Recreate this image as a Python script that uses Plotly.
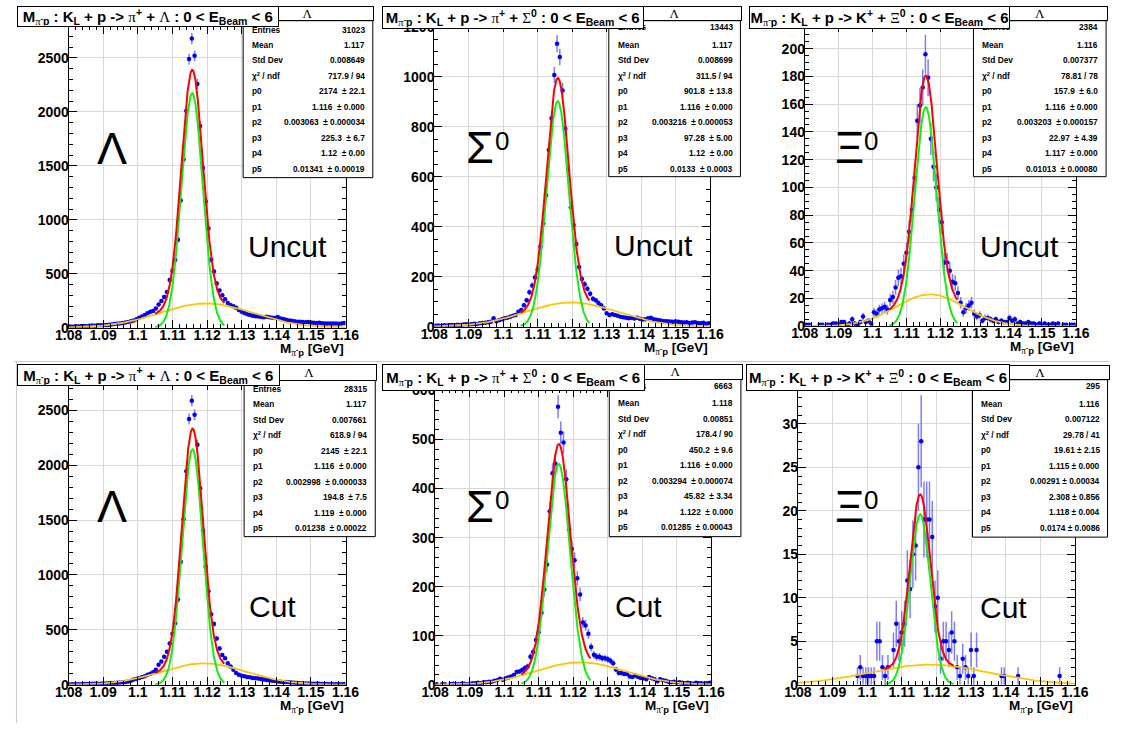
import numpy as np
import plotly.graph_objects as go

W, H = 1123, 731

BIN_LO = 1.08
BIN_W = 0.0008
X_RANGE = [1.08, 1.16]

# ---------------- histogram contents (100 bins, 1.08 - 1.16 GeV) ----------------
LAMBDA_UNCUT = [12, 10, 14, 12, 15, 16, 14, 18, 20, 18,
                22, 24, 22, 26, 28, 30, 34, 36, 40, 44,
                48, 54, 60, 68, 78, 92, 105, 118, 133, 148,
                154, 179, 215, 248, 285, 330, 442, 527, 627, 815,
                1180, 1560, 2010, 2490, 2680, 2520, 2260, 1870, 1480, 1170,
                920, 630, 520, 410, 345, 300, 265, 228, 210, 200,
                185, 165, 148, 136, 125, 118, 112, 106, 104, 100,
                98, 102, 96, 92, 90, 100, 85, 80, 74, 68,
                64, 60, 56, 56, 52, 50, 52, 48, 46, 44,
                45, 42, 40, 40, 38, 40, 38, 36, 40, 44]

SIGMA_UNCUT = [4, 5, 3, 6, 5, 6, 7, 6, 8, 7,
               9, 10, 9, 10, 12, 11, 14, 15, 16, 18,
               20, 34, 22, 26, 30, 34, 36, 40, 44, 47,
               60, 67, 86, 106, 138, 165, 197, 230, 321, 413,
               526, 707, 834, 1007, 1132, 1079, 945, 792, 628, 478,
               407, 331, 239, 191, 170, 152, 132, 112, 106, 95,
               86, 73, 54, 47, 50, 47, 44, 40, 38, 36,
               34, 36, 33, 36, 32, 29, 30, 34, 36, 30,
               28, 26, 24, 22, 22, 21, 20, 21, 20, 18,
               17, 18, 15, 17, 18, 15, 14, 16, 12, 14]

XI_UNCUT = [1, 1, 0, 0, 0, 1, 1, 0, 1, 1,
            2, 2, 1, 3, 3, 1, 2, 5, 2, 1,
            3, 7, 3, 4, 2, 10, 9, 12, 13, 14,
            12, 19, 21, 28, 35, 36, 45, 53, 68, 84,
            107, 148, 159, 172, 196, 179, 135, 115, 100, 84,
            75, 46, 46, 40, 32, 31, 24, 17, 10, 13,
            15, 17, 9, 7, 8, 4, 6, 6, 5, 4,
            5, 3, 4, 3, 3, 6, 4, 5, 2, 3,
            2, 2, 3, 2, 2, 1, 2, 1, 2, 1,
            1, 2, 1, 2, 0, 1, 1, 0, 1, 1]

LAMBDA_CUT = [3, 4, 4, 5, 5, 6, 6, 7, 8, 8,
              9, 10, 11, 12, 13, 15, 16, 18, 20, 22,
              26, 30, 36, 47, 54, 62, 70, 77, 92, 100,
              113, 137, 181, 211, 256, 301, 375, 464, 560, 777,
              1119, 1506, 1944, 2420, 2587, 2458, 2185, 1789, 1402, 1074,
              851, 643, 554, 420, 330, 271, 241, 196, 167, 137,
              107, 92, 83, 77, 71, 68, 62, 60, 56, 52,
              47, 44, 40, 36, 33, 30, 27, 25, 24, 22,
              20, 18, 16, 14, 12, 12, 11, 10, 9, 9,
              8, 7, 6, 6, 5, 5, 4, 5, 4, 6]

SIGMA_CUT = [1, 0, 1, 1, 0, 1, 2, 1, 1, 2,
             2, 1, 2, 3, 3, 4, 3, 5, 5, 6,
             6, 8, 9, 12, 10, 13, 15, 17, 20, 26,
             27, 30, 34, 37, 57, 67, 91, 107, 147, 194,
             245, 354, 431, 451, 567, 514, 494, 419, 317, 277,
             254, 217, 184, 127, 121, 104, 77, 61, 57, 57,
             54, 54, 52, 49, 44, 31, 24, 24, 22, 22,
             17, 16, 19, 16, 14, 13, 11, 16, 13, 11,
             7, 11, 9, 8, 6, 5, 6, 4, 5, 4,
             3, 4, 3, 2, 4, 3, 3, 2, 3, 4]

XI_CUT = [0, 0, 0, 0, 0, 0, 0, 0, 0, 0,
          0, 0, 0, 0, 0, 0, 0, 0, 0, 0,
          0, 1, 2, 1, 1, 1, 1, 1, 5, 5,
          2, 1, 2, 0, 4, 7, 5, 6, 7, 12,
          11, 15, 16, 25, 28, 19, 19, 19, 17, 9,
          10, 3, 5, 5, 4, 6, 5, 2, 1, 3,
          2, 1, 4, 1, 4, 0, 0, 0, 0, 0,
          0, 0, 0, 1, 1, 0, 0, 0, 0, 1,
          0, 0, 0, 0, 0, 0, 0, 0, 0, 0,
          0, 0, 0, 0, 1, 0, 0, 0, 0, 0]

# ---------------- fit parameters: p0*G(p1,p2) + p3*G(p4,p5) ----------------
FIT_LAMBDA_UNCUT = [2174, 1.1157, 0.003063, 225.3, 1.1197, 0.01341]
FIT_SIGMA_UNCUT = [901.8, 1.1158, 0.003216, 97.28, 1.1198, 0.0133]
FIT_XI_UNCUT = [157.9, 1.1157, 0.003203, 22.97, 1.117, 0.01013]
FIT_LAMBDA_CUT = [2145, 1.1158, 0.002998, 194.8, 1.119, 0.01238]
FIT_SIGMA_CUT = [450.2, 1.1158, 0.003294, 45.82, 1.122, 0.01285]
FIT_XI_CUT = [19.61, 1.1153, 0.00291, 2.308, 1.118, 0.0174]

# ---------------- stats box text ----------------
STAT_LABELS = ["Entries", "Mean", "Std Dev", "χ<sup>2</sup> / ndf",
               "p0", "p1", "p2", "p3", "p4", "p5"]
STATS_LAMBDA_UNCUT = ["31023", "1.117", "0.008649", "717.9 / 94", "2174  ± 22.1",
                      "1.116  ± 0.000", "0.003063  ± 0.000034", "225.3  ± 6.7",
                      "1.12  ± 0.00", "0.01341  ± 0.00019"]
STATS_SIGMA_UNCUT = ["13443", "1.117", "0.008699", "311.5 / 94", "901.8  ± 13.8",
                     "1.116  ± 0.000", "0.003216  ± 0.000053", "97.28  ± 5.00",
                     "1.12  ± 0.00", "0.0133  ± 0.0003"]
STATS_XI_UNCUT = ["2384", "1.116", "0.007377", "78.81 / 78", "157.9  ± 6.0",
                  "1.116  ± 0.000", "0.003203  ± 0.000157", "22.97  ± 4.39",
                  "1.117  ± 0.000", "0.01013  ± 0.00080"]
STATS_LAMBDA_CUT = ["28315", "1.117", "0.007661", "618.9 / 94", "2145  ± 22.1",
                    "1.116  ± 0.000", "0.002998  ± 0.000033", "194.8  ± 7.5",
                    "1.119  ± 0.000", "0.01238  ± 0.00022"]
STATS_SIGMA_CUT = ["6663", "1.118", "0.00851", "178.4 / 90", "450.2  ± 9.6",
                   "1.116  ± 0.000", "0.003294  ± 0.000074", "45.82  ± 3.34",
                   "1.122  ± 0.000", "0.01285  ± 0.00043"]
STATS_XI_CUT = ["295", "1.116", "0.007122", "29.78 / 41", "19.61 ± 2.15",
                "1.115 ± 0.000", "0.00291 ± 0.00034", "2.308 ± 0.856",
                "1.118 ± 0.004", "0.0174 ± 0.0086"]

SERIF = '<span style="font-family:Liberation Serif;font-weight:normal">%s</span>'
MPIP = "M<sub>" + SERIF % "π" + "<sup>-</sup>p</sub>"
TITLES = [
    MPIP + " : K<sub>L</sub> + p -&gt; " + SERIF % "π" + "<sup>+</sup> + " + SERIF % "Λ" + " : 0 &lt; E<sub>Beam</sub> &lt; 6",
    MPIP + " : K<sub>L</sub> + p -&gt; " + SERIF % "π" + "<sup>+</sup> + " + SERIF % "Σ" + "<sup>0</sup> : 0 &lt; E<sub>Beam</sub> &lt; 6",
    MPIP + " : K<sub>L</sub> + p -&gt; K<sup>+</sup> + " + SERIF % "Ξ" + "<sup>0</sup> : 0 &lt; E<sub>Beam</sub> &lt; 6",
]
PARTICLES = ["Λ", "Σ", "Ξ"]

# ---------------- layout of the six pads (pixels) ----------------
PANELS = [
    dict(h=LAMBDA_UNCUT, fit=FIT_LAMBDA_UNCUT, st=STATS_LAMBDA_UNCUT, title=TITLES[0], part=0, tag="Uncut",
         frame=(56, 20, 340, 328), ymax=2800, ydt=500, ymin=100,
         tbox=(6.5, 0.5, 268, 21), sbox=(235, 0.5, 368, 15, 175), ent=24,
         big=(101, 145), tagpos=(281, 245)),
    dict(h=SIGMA_UNCUT, fit=FIT_SIGMA_UNCUT, st=STATS_SIGMA_UNCUT, title=TITLES[1], part=1, tag="Uncut",
         frame=(431, 18, 714, 327), ymax=1212, ydt=200, ymin=50,
         tbox=(381.5, 0.5, 643, 23), sbox=(610, 0.5, 745, 15, 174), ent=21,
         big=(478, 144), tagpos=(656, 244)),
    dict(h=XI_UNCUT, fit=FIT_XI_UNCUT, st=STATS_XI_UNCUT, title=TITLES[2], part=2, tag="Uncut",
         frame=(811, 18, 1089, 326.5), ymax=218, ydt=20, ymin=5,
         tbox=(757, 0.5, 1018, 23), sbox=(984, 0.5, 1120, 15, 174), ent=21,
         big=(857, 144), tagpos=(1031, 245)),
    dict(h=LAMBDA_CUT, fit=FIT_LAMBDA_CUT, st=STATS_LAMBDA_CUT, title=TITLES[0], part=0, tag="Cut",
         frame=(56, 383, 340, 692), ymax=2760, ydt=500, ymin=100,
         tbox=(6.5, 365, 269, 387), sbox=(236, 365, 370.5, 381.5, 541), ent=390,
         big=(100, 510), tagpos=(265, 612)),
    dict(h=SIGMA_CUT, fit=FIT_SIGMA_CUT, st=STATS_SIGMA_CUT, title=TITLES[1], part=1, tag="Cut",
         frame=(432, 390, 715, 692), ymax=604, ydt=100, ymin=20,
         tbox=(381.5, 365, 644, 391.5), sbox=(610.5, 365, 745.5, 380.5, 541), ent=387,
         big=(478, 510), tagpos=(640, 612)),
    dict(h=XI_CUT, fit=FIT_XI_CUT, st=STATS_XI_CUT, title=TITLES[2], part=2, tag="Cut",
         frame=(804, 383, 1088, 692), ymax=34.85, ydt=5, ymin=1,
         tbox=(754, 365, 1018, 392), sbox=(983, 366, 1121.5, 381, 541.5), ent=387,
         big=(857, 510), tagpos=(1015, 613)),
]

FONT = "Liberation Sans"
fig = go.Figure()


def fx(px):
    return px / W


def fy(py):
    return 1 - py / H


def gauss(x, a, m, s):
    return a * np.exp(-0.5 * ((x - m) / s) ** 2)


def text(t, px, py, size, xanchor="center", weight="normal", family=FONT, **kw):
    fig.add_annotation(text=t, x=fx(px), y=fy(py), xref="paper", yref="paper",
                       xanchor=xanchor, yanchor="middle", showarrow=False,
                       font=dict(family=family, size=size, color="black", weight=weight), **kw)


def boxed(t, x0, y0, x1, y1, size, family=FONT, weight="bold"):
    fig.add_annotation(text=t, x=fx((x0 + x1) / 2), y=fy((y0 + y1) / 2), xref="paper", yref="paper",
                       xanchor="center", yanchor="middle", showarrow=False,
                       width=x1 - x0 - 2, height=y1 - y0 - 2, borderpad=0,
                       bgcolor="white", bordercolor="black", borderwidth=1,
                       font=dict(family=family, size=size, color="black", weight=weight))


bin_centers = BIN_LO + BIN_W * (np.arange(100) + 0.5)
x_sig = np.linspace(1.105, 1.125, 300)
x_bg = np.linspace(X_RANGE[0], X_RANGE[1], 400)

for i, p in enumerate(PANELS):
    n = "" if i == 0 else str(i + 1)
    xa, ya = "x" + n, "y" + n
    x0, y0, x1, y1 = p["frame"]
    counts = np.array(p["h"], dtype=float)
    keep = counts > 0
    fig.add_trace(go.Scatter(
        x=bin_centers[keep], y=counts[keep], mode="markers",
        marker=dict(color="#0000ff", size=4.5),
        error_y=dict(type="data", array=np.sqrt(counts[keep]), color="rgba(70,70,255,0.7)",
                     thickness=1.5, width=0),
        xaxis=xa, yaxis=ya, showlegend=False, hoverinfo="skip"))
    a0, m0, s0, a1, m1, s1 = p["fit"]
    fig.add_trace(go.Scatter(x=x_bg, y=gauss(x_bg, a1, m1, s1), mode="lines",
                             line=dict(color="#ffc400", width=1.8), xaxis=xa, yaxis=ya,
                             showlegend=False, hoverinfo="skip"))
    fig.add_trace(go.Scatter(x=x_sig, y=gauss(x_sig, a0, m0, s0), mode="lines",
                             line=dict(color="#11ee11", width=2), xaxis=xa, yaxis=ya,
                             showlegend=False, hoverinfo="skip"))
    fig.add_trace(go.Scatter(x=x_sig, y=gauss(x_sig, a0, m0, s0) + gauss(x_sig, a1, m1, s1),
                             mode="lines", line=dict(color="#ff0000", width=2), xaxis=xa, yaxis=ya,
                             showlegend=False, hoverinfo="skip"))

    axis_common = dict(showline=True, linecolor="black", linewidth=1, mirror="ticks",
                       ticks="inside", ticklen=8, tickwidth=1, tickcolor="black",
                       showgrid=True, gridcolor="#d8d8d8", gridwidth=1, zeroline=False,
                       tickfont=dict(family=FONT, size=14, color="black", weight="bold"))
    fig.layout["xaxis" + n] = dict(
        axis_common, domain=[fx(x0), fx(x1)], range=X_RANGE, anchor=ya,
        tickmode="linear", tick0=1.08, dtick=0.01, ticklabelstandoff=-6,
        minor=dict(ticks="inside", ticklen=4, tick0=1.08, dtick=0.002, tickcolor="black", showgrid=False))
    fig.layout["yaxis" + n] = dict(
        axis_common, domain=[fy(y1), fy(y0)], range=[0, p["ymax"]], anchor=xa,
        tickmode="linear", tick0=0, dtick=p["ydt"], ticklabelstandoff=-4,
        minor=dict(ticks="inside", ticklen=4, tick0=0, dtick=p["ymin"], tickcolor="black", showgrid=False))

# stats boxes, titles, labels
for i, p in enumerate(PANELS):
    x0, y0, x1, y1 = p["frame"]
    sx0, sy0, sx1, shb, sy1 = p["sbox"]
    fig.add_shape(type="rect", xref="paper", yref="paper", x0=fx(sx0), x1=fx(sx1),
                  y0=fy(sy1), y1=fy(shb), fillcolor="white", line=dict(color="black", width=1),
                  layer="above")
    ys = [p["ent"] if k == 0 else shb + 8.5 + 15.85 * k for k in range(10)]
    for k in range(10):
        text(STAT_LABELS[k], sx0 + 7, ys[k], 8.3, xanchor="left", weight="bold")
        text(p["st"][k], sx1 - 6, ys[k], 8.3, xanchor="right", weight="bold")
    boxed("Λ", sx0, sy0, sx1, shb, 13, family="Liberation Serif", weight="normal")
    tx0, ty0, tx1, ty1 = p["tbox"]
    boxed(p["title"], tx0, ty0, tx1, ty1, 15)
    # axis title
    text(MPIP + " [GeV]", x1, y1 + 22, 13.5, xanchor="right", weight="bold")
    # big particle label
    bx, by = p["big"]
    text(PARTICLES[p["part"]], bx, by, 45)
    if p["part"] > 0:
        text("0", bx + 22, by - 6, 26)
    tx, ty = p["tagpos"]
    text(p["tag"], tx, ty, 30)

# pad separators
fig.add_shape(type="line", xref="paper", yref="paper", x0=0, x1=1, y0=fy(362.5), y1=fy(362.5),
              line=dict(color="#c8c8c8", width=1), layer="above")
fig.add_shape(type="line", xref="paper", yref="paper", x0=fx(2.5), x1=fx(2.5), y0=0, y1=fy(362.5),
              line=dict(color="#c8c8c8", width=1), layer="above")

fig.update_layout(width=W, height=H, margin=dict(l=0, r=0, t=0, b=0),
                  paper_bgcolor="white", plot_bgcolor="white", showlegend=False)

fig.write_html("out.html")
